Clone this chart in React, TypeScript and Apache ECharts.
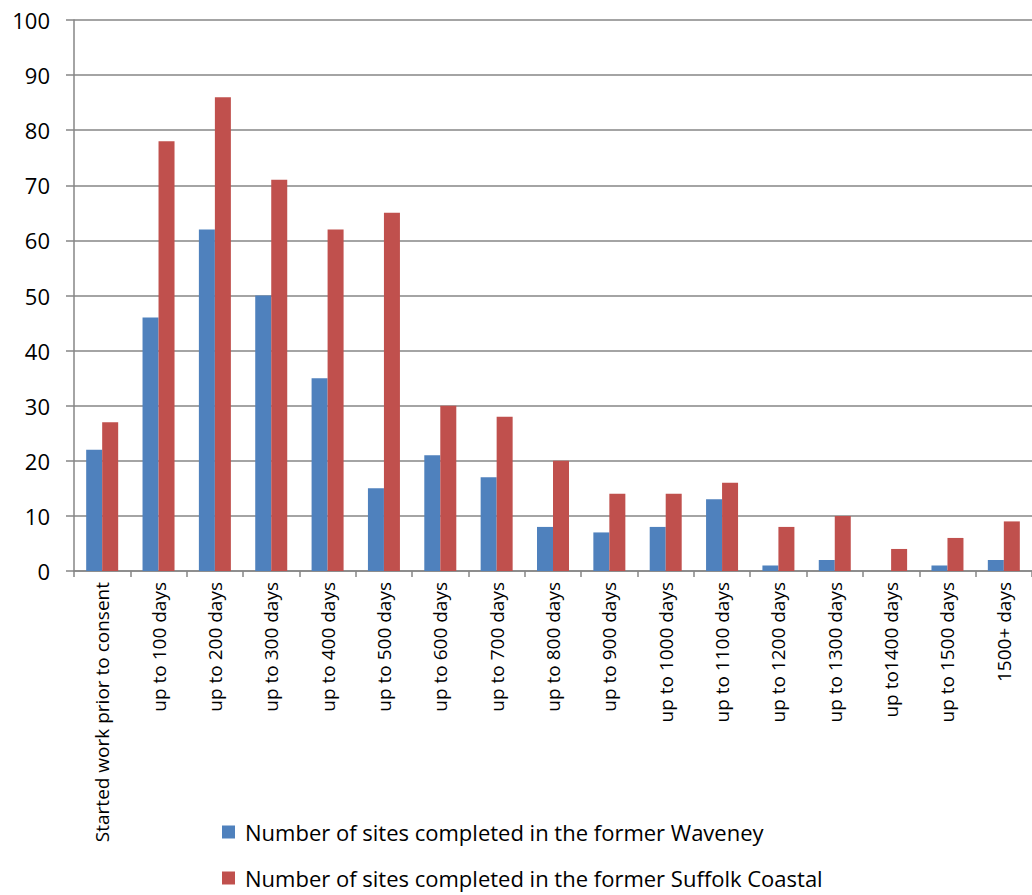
import React, { useEffect, useRef } from "react";
import * as echarts from "echarts";

const categories = [
  "Started work prior to consent",
  "up to 100 days",
  "up to 200 days",
  "up to 300 days",
  "up to 400 days",
  "up to 500 days",
  "up to 600 days",
  "up to 700 days",
  "up to 800 days",
  "up to 900 days",
  "up to 1000 days",
  "up to 1100 days",
  "up to 1200 days",
  "up to 1300 days",
  "up to1400 days",
  "up to 1500 days",
  "1500+ days",
];
const waveney = [22, 46, 62, 50, 35, 15, 21, 17, 8, 7, 8, 13, 1, 2, 0, 1, 2];
const suffolkCoastal = [27, 78, 86, 71, 62, 65, 30, 28, 20, 14, 14, 16, 8, 10, 4, 6, 9];
const seriesNames = [
  "Number of sites completed in the former Waveney",
  "Number of sites completed in the former Suffolk Coastal",
];

const FONT = "Open Sans, Noto Sans, sans-serif";

export default function App() {
  const ref = useRef<HTMLDivElement>(null);
  useEffect(() => {
    if (!ref.current) return;
    const chart = echarts.init(ref.current, null, { renderer: "svg" });
    chart.setOption({
      animation: false,
      backgroundColor: "#ffffff",
      textStyle: { fontFamily: FONT, color: "#000" },
      grid: { left: 74, top: 20, right: 0, height: 551, containLabel: false },
      legend: {
        orient: "vertical",
        left: 222,
        top: 820,
        padding: 0,
        itemWidth: 13,
        itemHeight: 13,
        itemGap: 22,
        icon: "rect",
        textStyle: {
          fontSize: 22,
          lineHeight: 24,
          fontFamily: FONT,
          color: "#000",
          padding: [0, 0, 0, 5],
        },
        data: seriesNames,
      },
      xAxis: {
        type: "category",
        data: categories,
        axisLine: { lineStyle: { color: "#868686", width: 1.5 } },
        axisTick: { show: true, length: 6, lineStyle: { color: "#868686", width: 1.5 } },
        axisLabel: {
          rotate: 90,
          interval: 0,
          fontSize: 19,
          color: "#000",
          fontFamily: FONT,
          margin: 11,
        },
      },
      yAxis: {
        type: "value",
        min: 0,
        max: 100,
        interval: 10,
        axisLine: { show: true, lineStyle: { color: "#868686", width: 1.5 } },
        axisTick: { show: true, length: 8, inside: false, lineStyle: { color: "#868686", width: 1.5 } },
        splitLine: { show: true, lineStyle: { color: "#868686", width: 1.5 } },
        axisLabel: { fontSize: 22, color: "#000", fontFamily: FONT, margin: 24 },
      },
      series: [
        {
          name: seriesNames[0],
          type: "bar",
          data: waveney,
          barWidth: 16,
          barGap: "0%",
          itemStyle: { color: "#4F81BD" },
        },
        {
          name: seriesNames[1],
          type: "bar",
          data: suffolkCoastal,
          barWidth: 16,
          barGap: "0%",
          itemStyle: { color: "#C0504D" },
        },
      ],
    });
    return () => chart.dispose();
  }, []);
  return (
    <div
      ref={ref}
      style={{ position: "absolute", left: 0, top: 0, width: 1032, height: 895 }}
    />
  );
}
